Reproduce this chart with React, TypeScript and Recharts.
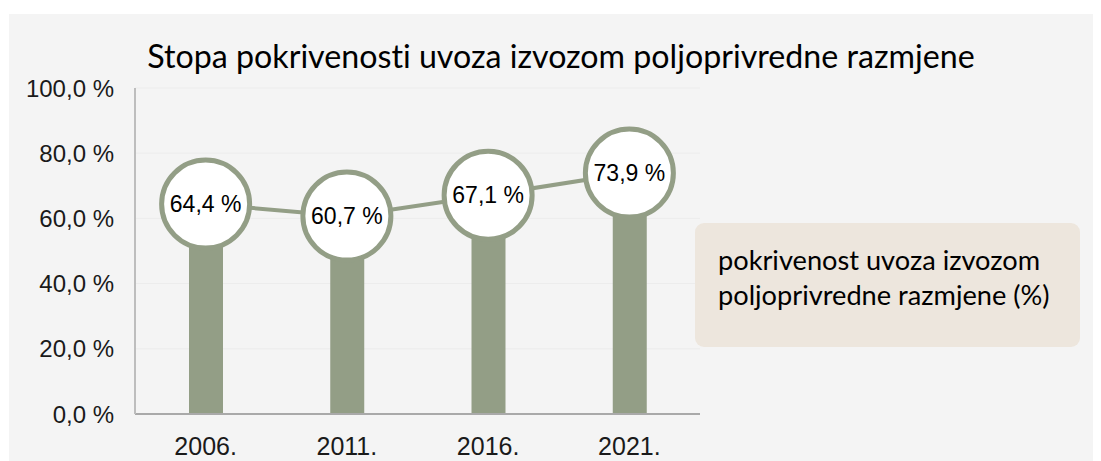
import React from 'react';
import { ComposedChart, Bar, Line, XAxis, YAxis, CartesianGrid, LabelList, Legend } from 'recharts';

const categories = ['2006.', '2011.', '2016.', '2021.'];
const coverage = [64.4, 60.7, 67.1, 73.9];
const yTicks = [0, 20, 40, 60, 80, 100];
const seriesName = 'pokrivenost uvoza izvozom poljoprivredne razmjene (%)';
const legendLines = ['pokrivenost uvoza izvozom', 'poljoprivredne razmjene (%)'];
const title = 'Stopa pokrivenosti uvoza izvozom poljoprivredne razmjene';

const data = categories.map((c, i) => ({ year: c, value: coverage[i] }));

const GREEN = '#939E86';
const fmt = (v: number) => v.toFixed(1).replace('.', ',') + ' %';

const LegendBox = () => (
  <div
    style={{
      width: 385,
      height: 124,
      background: '#EDE6DD',
      borderRadius: 9,
      boxSizing: 'border-box',
      padding: '19px 0 0 23px',
      fontFamily: 'Lato, sans-serif',
      fontSize: 27.2,
      lineHeight: '35px',
      color: '#000',
      fontVariantLigatures: 'none',
    }}
  >
    {legendLines.map((l) => (
      <div key={l}>{l}</div>
    ))}
  </div>
);

export default function App() {
  return (
    <div style={{ position: 'relative', width: 1093, height: 453 }}>
      <div style={{ position: 'absolute', left: 1, top: 6, width: 1092, height: 447, background: '#F4F4F4' }}>
        <div
          style={{
            position: 'absolute',
            left: 0,
            top: 22,
            width: 1104,
            textAlign: 'center',
            fontFamily: 'Lato, sans-serif',
            fontSize: 32.2,
            color: '#000',
            whiteSpace: 'nowrap',
            fontVariantLigatures: 'none',
          }}
        >
          {title}
        </div>
        <ComposedChart width={1092} height={447} data={data} margin={{ top: 74, left: 0, right: 401, bottom: 0 }}>
          <CartesianGrid vertical={false} stroke="#ECECEC" strokeWidth={1} />
          <XAxis
            dataKey="year"
            height={47}
            tickLine={false}
            tickSize={0}
            tickMargin={23}
            axisLine={{ stroke: '#A9A9A9', strokeWidth: 2 }}
            tick={{ fontFamily: 'Liberation Sans, Arial, sans-serif', fontSize: 25, fill: '#1a1a1a' }}
          />
          <YAxis
            width={126}
            domain={[0, 100]}
            ticks={yTicks}
            tickFormatter={fmt}
            tickLine={false}
            tickSize={0}
            tickMargin={21}
            axisLine={{ stroke: '#BDBDBD', strokeWidth: 2 }}
            tick={{ fontFamily: 'Liberation Sans, Arial, sans-serif', fontSize: 24, fill: '#1a1a1a' }}
          />
          <Legend
            layout="horizontal"
            align="center"
            verticalAlign="middle"
            wrapperStyle={{ left: 686, top: 209, width: 385, height: 124 }}
            content={() => <LegendBox />}
          />
          <Bar dataKey="value" name={seriesName} fill={GREEN} barSize={34} isAnimationActive={false} legendType="none" />
          <Line
            dataKey="value"
            name={seriesName}
            stroke={GREEN}
            strokeWidth={4}
            dot={{ r: 44, fill: '#FFFFFF', stroke: GREEN, strokeWidth: 5 }}
            activeDot={false}
            isAnimationActive={false}
          >
            <LabelList
              dataKey="value"
              position="center"
              formatter={(v: number) => fmt(v)}
              style={{ fontFamily: 'Liberation Sans, Arial, sans-serif', fontSize: 23, fill: '#000' }}
            />
          </Line>
        </ComposedChart>
      </div>
    </div>
  );
}
